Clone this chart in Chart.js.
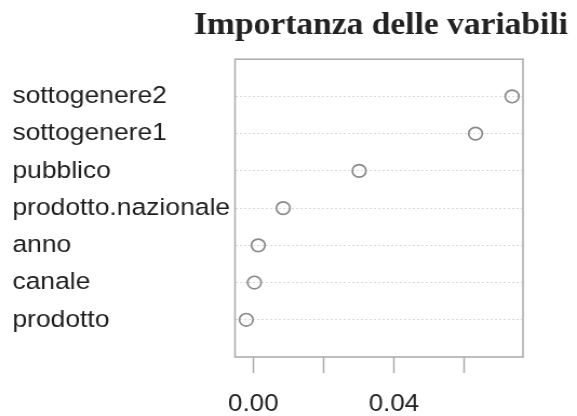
<!DOCTYPE html>
<html lang="it">
<head>
  <meta charset="UTF-8" />
  <title>Importanza delle variabili</title>
  <script src="https://cdn.jsdelivr.net/npm/chart.js"></script>
  <style>
    body {
      margin: 0;
      background-color: #fff;
    }
  </style>
</head>
<body>
  <!-- the original picture is a bit stretched sideways, so the canvas is
       drawn at 534px and shown at 577px (inline style so Chart.js keeps it) -->
  <canvas id="importanceChart" width="534" height="416" style="display:block;width:577px;height:416px"></canvas>

  <script>
    const variables = ['sottogenere2', 'sottogenere1', 'pubblico', 'prodotto.nazionale', 'anno', 'canale', 'prodotto'];
    const importance = [0.0736, 0.0632, 0.0301, 0.0085, 0.0014, 0.0003, -0.0020];
    const xTicks = [0, 0.02, 0.04, 0.06];
    const xTickLabels = ['0.00', '', '0.04', ''];

    const labelFont = { family: "'Liberation Sans', Arial, sans-serif", size: 24.5 };

    // R style box around the plot region
    const frame = {
      id: 'frame',
      beforeDatasetsDraw(chart) {
        const { ctx, chartArea: a } = chart;
        ctx.save();
        ctx.strokeStyle = '#a9a9a9';
        ctx.lineWidth = 1.5;
        ctx.strokeRect(a.left, a.top, a.right - a.left, a.bottom - a.top);
        ctx.restore();
      }
    };

    const ctx = document.getElementById('importanceChart').getContext('2d');
    new Chart(ctx, {
      type: 'scatter',
      data: {
        datasets: [{
          data: importance.map((v, i) => ({ x: v, y: variables.length - i })),
          pointStyle: 'circle',
          pointRadius: 6.3,
          pointBorderWidth: 1.7,
          pointBorderColor: '#8a8a8a',
          pointBackgroundColor: 'rgba(255,255,255,0)',
          showLine: false
        }]
      },
      options: {
        responsive: false,
        animation: false,
        devicePixelRatio: 1,
        events: [],
        layout: { padding: { left: 11.4, right: 8.3, top: 0, bottom: 0 } },
        plugins: {
          legend: { display: false },
          tooltip: { enabled: false },
          title: {
            display: true,
            text: 'Importanza delle variabili',
            align: 'end',
            color: '#222',
            font: { family: "'Liberation Serif', 'Times New Roman', serif", weight: 'bold', size: 31, lineHeight: 1.2 },
            padding: { top: 7, bottom: 15 }
          }
        },
        scales: {
          x: {
            type: 'linear',
            position: 'bottom',
            min: -0.0052,
            max: 0.0767,
            afterBuildTicks: s => { s.ticks = xTicks.map(v => ({ value: v })); },
            afterFit: s => { s.height = 59; },
            ticks: {
              autoSkip: false,
              maxRotation: 0,
              padding: 17,
              color: '#222',
              font: { family: labelFont.family, size: 24, lineHeight: 1.2 },
              callback: (v, i) => xTickLabels[i]
            },
            grid: {
              drawOnChartArea: false,
              drawTicks: true,
              tickLength: 16,
              tickColor: '#ababab',
              tickWidth: 1.5
            },
            border: { display: false }
          },
          y: {
            type: 'linear',
            position: 'left',
            min: 0,
            max: variables.length + 1,
            afterBuildTicks: s => { s.ticks = variables.map((_, i) => ({ value: i + 1 })); },
            afterFit: s => { s.width = 206.1; },
            ticks: {
              autoSkip: false,
              crossAlign: 'far',
              padding: 0,
              color: '#1e1e1e',
              font: labelFont,
              callback: v => variables[variables.length - v]
            },
            grid: {
              color: '#dadada',
              lineWidth: 1,
              drawTicks: false
            },
            border: { display: false, dash: [2, 2] }
          },
          // empty axis on the right, only keeps the plot box narrower than the title
          spacer: {
            type: 'linear',
            position: 'right',
            afterFit: s => { s.width = 41.7; },
            ticks: { display: false },
            grid: { display: false },
            border: { display: false }
          }
        }
      },
      plugins: [frame]
    });
  </script>
</body>
</html>
